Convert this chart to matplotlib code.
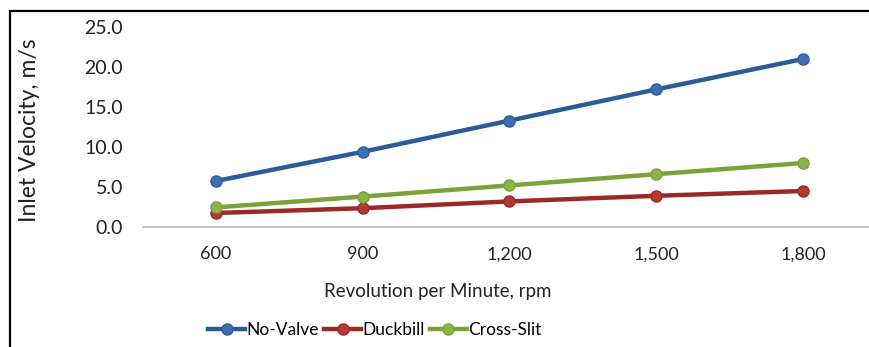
import matplotlib.pyplot as plt
from matplotlib.patches import Rectangle

rpm = ["600", "900", "1,200", "1,500", "1,800"]
no_valve = [5.75, 9.4, 13.3, 17.2, 21.0]
duckbill = [1.75, 2.35, 3.2, 3.9, 4.5]
cross_slit = [2.45, 3.8, 5.2, 6.6, 8.0]
yticks = [0, 5, 10, 15, 20, 25]

plt.rcParams['font.family'] = ['Lato', 'DejaVu Sans']

fig = plt.figure(figsize=(8.7, 3.47), dpi=100)
ax = fig.add_axes([142.5 / 870, 1 - 227 / 347, 734 / 870, 200 / 347])

x = list(range(len(rpm)))
series = [
    ("No-Valve", no_valve, "#2B5C9A", "#3E6FB0"),
    ("Duckbill", duckbill, "#9A2A26", "#B03A36"),
    ("Cross-Slit", cross_slit, "#7DA23A", "#8DB44A"),
]
for name, vals, col, fill in series:
    ax.plot(x, vals, color=col, lw=3.2, marker="o", ms=8,
            markerfacecolor=fill, markeredgecolor=col, markeredgewidth=1,
            label=name)

ax.set_xlim(-0.5, len(rpm) - 0.5)
ax.set_ylim(0, 25)
ax.set_xticks(x)
ax.set_xticklabels(rpm)
ax.set_yticks(yticks)
ax.set_yticklabels([f"{v:.1f}" for v in yticks])
ax.tick_params(axis="both", length=0, colors="#222222")
ax.tick_params(axis="y", pad=14, labelsize=14)
ax.tick_params(axis="x", pad=14, labelsize=13)
for s in ["top", "right", "left"]:
    ax.spines[s].set_visible(False)
ax.spines["bottom"].set_color("#BBBBBB")
ax.spines["bottom"].set_linewidth(1.2)
ax.set_facecolor("none")

fig.text(30 / 870, 1 - 130 / 347, "Inlet Velocity, m/s", rotation=90,
         ha="center", va="center", fontsize=16.5, color="#222222")
fig.text(438 / 870, 1 - 292 / 347, "Revolution per Minute, rpm",
         ha="center", va="center", fontsize=13.5, color="#222222")

fig.legend(loc="center", bbox_to_anchor=(375 / 870, 1 - 330 / 347), ncol=3,
           frameon=False, fontsize=12.5, handlelength=2.1, handletextpad=0.1,
           columnspacing=0.3)

fig.patches.append(Rectangle((10 / 870, -0.1), 1.2, 1 - 11.5 / 347 + 0.1,
                             transform=fig.transFigure, fill=False,
                             edgecolor="black", lw=1.6))

fig.savefig("out.png", dpi=100)
